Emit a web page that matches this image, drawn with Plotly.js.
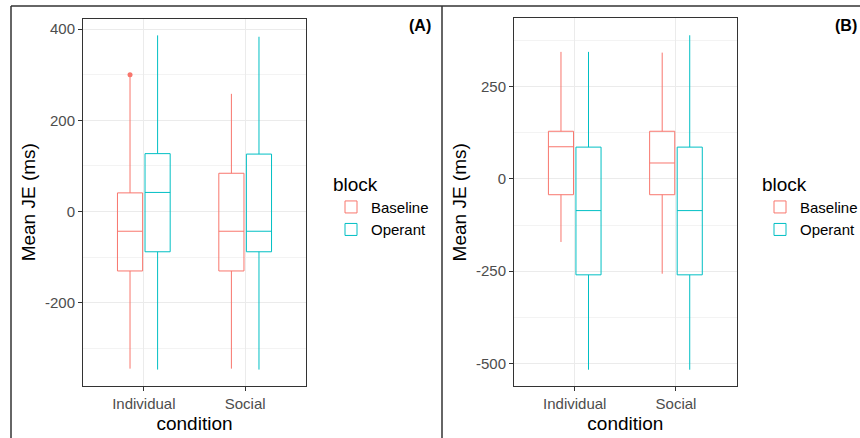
<!DOCTYPE html>
<html>
<head>
<meta charset="utf-8">
<script src="https://cdn.plot.ly/plotly-3.0.1.min.js"></script>
<style>html,body{margin:0;padding:0;background:#fff;}#chart{width:860px;height:438px;}</style>
</head>
<body>
<div id="chart"></div>
<script>
// ---- data ----
const conditions = ['Individual', 'Social'];
const blocks = ['Baseline', 'Operant'];

// Panel (A)
const aBaseQ1 = [-130, -130];
const aBaseMed = [-43, -43];
const aBaseQ3 = [41, 84];
const aBaseLo = [-344, -344];
const aBaseHi = [297, 258];
const aOperQ1 = [-88, -88];
const aOperMed = [42, -43];
const aOperQ3 = [127, 126];
const aOperLo = [-346, -346];
const aOperHi = [386, 383];
const aOutlierX = ['Individual'];
const aOutlierY = [300];

// Panel (B)
const bBaseQ1 = [-43, -43];
const bBaseMed = [87, 43];
const bBaseQ3 = [129, 129];
const bBaseLo = [-171, -257];
const bBaseHi = [344, 342];
const bOperQ1 = [-260, -260];
const bOperMed = [-86, -86];
const bOperQ3 = [86, 86];
const bOperLo = [-517, -517];
const bOperHi = [344, 389];

const aTicks = [-200, 0, 200, 400];
const bTicks = [-500, -250, 0, 250];

// ---- styling ----
const colBase = '#F8766D';
const colOper = '#00BFC4';
const FONT = 'Liberation Sans, Arial, sans-serif';

function box(name, color, q1, med, q3, lo, hi, xa, ya, legend, showlegend) {
  return {
    type: 'box', name: name, x: conditions,
    q1: q1, median: med, q3: q3, lowerfence: lo, upperfence: hi,
    xaxis: xa, yaxis: ya, legend: legend, showlegend: showlegend,
    offsetgroup: name, boxpoints: false, whiskerwidth: 0,
    line: {color: color, width: 1}, fillcolor: 'rgba(255,255,255,0)'
  };
}

const traces = [
  box(blocks[0], colBase, aBaseQ1, aBaseMed, aBaseQ3, aBaseLo, aBaseHi, 'x', 'y', 'legend', true),
  box(blocks[1], colOper, aOperQ1, aOperMed, aOperQ3, aOperLo, aOperHi, 'x', 'y', 'legend', true),
  {
    type: 'scatter', mode: 'markers', x: aOutlierX, y: aOutlierY,
    xaxis: 'x', yaxis: 'y', offsetgroup: blocks[0], orientation: 'v',
    showlegend: false, hoverinfo: 'y',
    marker: {color: colBase, size: 5}
  },
  box(blocks[0], colBase, bBaseQ1, bBaseMed, bBaseQ3, bBaseLo, bBaseHi, 'x2', 'y2', 'legend2', true),
  box(blocks[1], colOper, bOperQ1, bOperMed, bOperQ3, bOperLo, bOperHi, 'x2', 'y2', 'legend2', true)
];

function xAxis(domain) {
  return {
    domain: domain, type: 'category', categoryorder: 'array', categoryarray: conditions,
    range: [-0.6, 1.6],
    showline: true, mirror: true, linecolor: '#333333', linewidth: 1,
    ticks: 'outside', ticklen: 4, tickcolor: '#333333',
    showgrid: true, gridcolor: '#EBEBEB', gridwidth: 1,
    zeroline: false,
    tickfont: {family: FONT, size: 15, color: '#4D4D4D'},
    title: {text: 'condition', font: {family: FONT, size: 19, color: '#000'}, standoff: 5}
  };
}
function yAxis(domain, range, ticks, minorStep, anchor) {
  return {
    domain: domain, range: range, anchor: anchor,
    tickvals: ticks, ticktext: ticks.map(String),
    showline: true, mirror: true, linecolor: '#333333', linewidth: 1,
    ticks: 'outside', ticklen: 4, tickcolor: '#333333',
    showgrid: true, gridcolor: '#EBEBEB', gridwidth: 1,
    minor: {dtick: minorStep, tick0: minorStep / 2, showgrid: true, gridcolor: '#F3F3F3', gridwidth: 1, ticks: ''},
    zeroline: false,
    tickfont: {family: FONT, size: 15, color: '#4D4D4D'},
    title: {text: 'Mean JE (ms)', font: {family: FONT, size: 19, color: '#000'}, standoff: 4}
  };
}

const xa = xAxis([83 / 860, 306 / 860]); xa.anchor = 'y';
const xb = xAxis([514 / 860, 736.7 / 860]); xb.anchor = 'y2';

const legendCommon = {
  xanchor: 'left', yanchor: 'top', bgcolor: 'rgba(0,0,0,0)',
  font: {family: FONT, size: 15, color: '#000'},
  title: {text: 'block', font: {family: FONT, size: 19, color: '#000'}},
  tracegroupgap: 0
};

const layout = {
  width: 860, height: 438,
  margin: {l: 0, r: 0, t: 0, b: 0, autoexpand: false},
  paper_bgcolor: '#fff', plot_bgcolor: '#fff',
  font: {family: FONT},
  boxmode: 'group', boxgap: 0.456, boxgroupgap: 0.088,
  scattermode: 'group', scattergap: 0.456,
  xaxis: xa,
  yaxis: yAxis([1 - 386 / 438, 1 - 18.5 / 438], [-382, 423], aTicks, 200, 'x'),
  xaxis2: xb,
  yaxis2: yAxis([1 - 386.3 / 438, 1 - 18.3 / 438], [-562, 435], bTicks, 250, 'x2'),
  legend: Object.assign({x: 331 / 860, y: 1 - 166 / 438}, legendCommon),
  legend2: Object.assign({x: 760 / 860, y: 1 - 166 / 438}, legendCommon),
  annotations: [
    {xref: 'paper', yref: 'paper', x: 420 / 860, y: 1 - 26 / 438, xanchor: 'center', yanchor: 'middle',
     text: '<b>(A)</b>', showarrow: false, font: {family: FONT, size: 16, color: '#000'}},
    {xref: 'paper', yref: 'paper', x: 846 / 860, y: 1 - 26 / 438, xanchor: 'center', yanchor: 'middle',
     text: '<b>(B)</b>', showarrow: false, font: {family: FONT, size: 16, color: '#000'}}
  ],
  shapes: [
    {type: 'line', xref: 'paper', yref: 'paper', x0: 11 / 860, x1: 1, y0: 1 - 6 / 438, y1: 1 - 6 / 438, line: {color: '#333', width: 1.5}},
    {type: 'line', xref: 'paper', yref: 'paper', x0: 11 / 860, x1: 11 / 860, y0: 0, y1: 1 - 6 / 438, line: {color: '#333', width: 1.5}},
    {type: 'line', xref: 'paper', yref: 'paper', x0: 442 / 860, x1: 442 / 860, y0: 0, y1: 1 - 6 / 438, line: {color: '#333', width: 1.5}}
  ]
};

Plotly.newPlot('chart', traces, layout, {displayModeBar: false, responsive: false});
</script>
</body>
</html>
